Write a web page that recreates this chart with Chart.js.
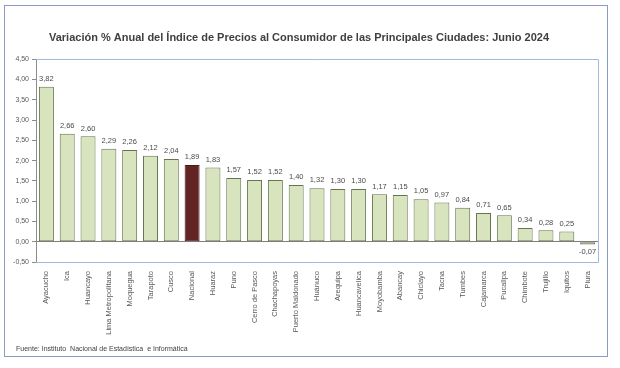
<!DOCTYPE html>
<html>
<head>
<meta charset="utf-8">
<script src="https://cdn.jsdelivr.net/npm/chart.js@4.4.1/dist/chart.umd.min.js"></script>
<style>
  html, body { margin: 0; padding: 0; background: #ffffff; }
  #wrap { width: 620px; height: 368px; }
</style>
</head>
<body>
<div id="wrap"><canvas id="chart" width="620" height="368"></canvas></div>
<script>
// ciudades y variación anual %
const ciudades = [
  "Ayacucho", "Ica", "Huancayo", "Lima Metropolitana", "Moquegua", "Tarapoto",
  "Cusco", "Nacional", "Huaraz", "Puno", "Cerro de Pasco", "Chachapoyas",
  "Puerto Maldonado", "Huánuco", "Arequipa", "Huancavelica", "Moyobamba",
  "Abancay", "Chiclayo", "Tacna", "Tumbes", "Cajamarca", "Pucallpa",
  "Chimbote", "Trujillo", "Iquitos", "Piura"
];
const variacion = [
  3.82, 2.66, 2.60, 2.29, 2.26, 2.12, 2.04, 1.89, 1.83, 1.57, 1.52, 1.52,
  1.40, 1.32, 1.30, 1.30, 1.17, 1.15, 1.05, 0.97, 0.84, 0.71, 0.65,
  0.34, 0.28, 0.25, -0.07
];
const yTicks = [-0.5, 0, 0.5, 1, 1.5, 2, 2.5, 3, 3.5, 4, 4.5];
const fuente = "Fuente: Instituto  Nacional de Estadística  e Informática";

const fmt = (v) => v.toFixed(2).replace(".", ",");

const verde = "#d7e4bd";
const granate = "#632523";
const familia = "'Liberation Sans', Arial, sans-serif";

// marco exterior, borde del área de gráfico, etiquetas y fuente
const marco = {
  id: "marco",
  beforeDraw(chart) {
    const c = chart.ctx;
    c.save();
    c.fillStyle = "#ffffff";
    c.fillRect(0, 0, chart.width, chart.height);
    c.strokeStyle = "#8b9dbf";
    c.lineWidth = 1;
    c.strokeRect(4.5, 5.5, 603, 351);
    c.fillStyle = "#404040";
    c.font = "7px " + familia;
    c.textAlign = "left";
    c.textBaseline = "middle";
    c.fillText(fuente, 16, 349);
    c.restore();
  },
  afterDatasetsDraw(chart) {
    const a = chart.chartArea;
    const c = chart.ctx;
    c.save();
    c.strokeStyle = "#9dbbe0";
    c.lineWidth = 1;
    c.beginPath();
    c.moveTo(a.left, Math.round(a.top) + 0.5);
    c.lineTo(Math.round(a.right) + 0.5, Math.round(a.top) + 0.5);
    c.lineTo(Math.round(a.right) + 0.5, Math.round(a.bottom) + 0.5);
    c.lineTo(a.left, Math.round(a.bottom) + 0.5);
    c.stroke();
    const meta = chart.getDatasetMeta(0);
    c.fillStyle = "#4a4a4a";
    c.font = "7.5px " + familia;
    c.textAlign = "center";
    meta.data.forEach((bar, i) => {
      const v = variacion[i];
      if (v >= 0) {
        c.textBaseline = "bottom";
        c.fillText(fmt(v), bar.x, bar.y - 4);
      } else {
        c.textBaseline = "top";
        c.fillText(fmt(v), bar.x, bar.y + 4);
      }
    });
    c.restore();
  }
};

new Chart(document.getElementById("chart"), {
  type: "bar",
  data: {
    labels: ciudades,
    datasets: [{
      data: variacion,
      backgroundColor: ciudades.map((c) => c === "Nacional" ? granate : verde),
      borderColor: ciudades.map((c) => c === "Nacional" ? "#4a1a18" : "#66744f"),
      borderWidth: 1,
      borderSkipped: false,
      categoryPercentage: 1,
      barPercentage: 0.72
    }]
  },
  options: {
    responsive: false,
    animation: false,
    layout: { padding: { left: 0, right: 22, top: 0, bottom: 22 } },
    plugins: {
      legend: { display: false },
      tooltip: { enabled: false },
      title: {
        display: true,
        text: "Variación % Anual del Índice de Precios al Consumidor de las Principales Ciudades: Junio 2024",
        color: "#404040",
        font: { family: familia, size: 11, weight: "bold" },
        padding: { top: 31, bottom: 15 }
      }
    },
    scales: {
      x: {
        grid: { display: false },
        border: { display: false },
        ticks: {
          color: "#595959",
          font: { family: familia, size: 7.5 },
          minRotation: 90,
          maxRotation: 90,
          autoSkip: false,
          padding: 1
        },
        afterFit: (s) => { s.height = 84; }
      },
      y: {
        min: -0.5,
        max: 4.5,
        afterBuildTicks: (s) => { s.ticks = yTicks.map((v) => ({ value: v })); },
        grid: {
          drawOnChartArea: true,
          color: (ctx) => ctx.tick && ctx.tick.value === 0 ? "#7f7f7f" : "rgba(0,0,0,0)",
          tickColor: "#8c8c8c",
          tickLength: 4
        },
        border: { display: true, color: "#8c8c8c" },
        ticks: {
          color: "#595959",
          font: { family: familia, size: 7 },
          padding: 3,
          callback: (v) => fmt(v)
        },
        afterFit: (s) => { s.width = 36; }
      }
    }
  },
  plugins: [marco]
});
</script>
</body>
</html>
